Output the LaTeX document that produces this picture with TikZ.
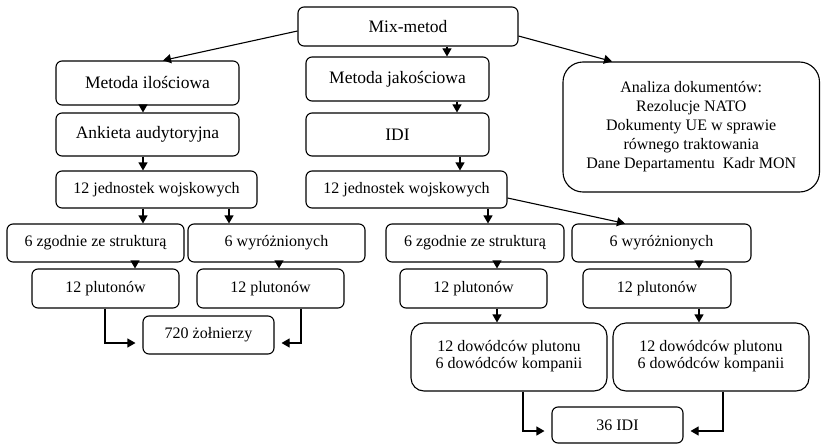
\documentclass[tikz,border=0pt]{standalone}
\usepackage{fontspec}
\setmainfont{Liberation Serif}
\usetikzlibrary{arrows.meta}
\newcommand{\twolines}[2]{\raisebox{9pt}{\begin{tabular}{@{}c@{}}#1\\#2\end{tabular}}}
\begin{document}
\begin{tikzpicture}[x=1pt,y=-1pt,
  box/.style={draw,line width=1.1pt,rounded corners=6pt,inner sep=0pt,align=center,
    font=\fontsize{16}{17}\selectfont},
  big/.style={font=\fontsize{17.5}{20}\selectfont},
  wh/.style 2 args={minimum width=#1pt,minimum height=#2pt},
  arr/.style={line width=1.1pt,-{Triangle[length=8pt,width=9pt]}},
  gap/.style={shorten >=7pt}]
\useasboundingbox (0,0) rectangle (821,444);

% top level
\node[box,big,wh={220}{39}] (mm) at (408,26.5) {Mix-metod};
\node[box,big,wh={183}{44}] (mi) at (147.5,83) {Metoda ilościowa};
\node[box,big,wh={183}{43}] (ak) at (147.5,134.5) {Ankieta audytoryjna};
\node[box,wh={201}{37}] (jl) at (156.5,189.5) {12 jednostek wojskowych};
\node[box,big,wh={183}{44}] (mj) at (397.5,79) {Metoda jakościowa};
\node[box,big,wh={183}{43}] (idi) at (397.5,134.5) {IDI};
\node[box,wh={201}{37}] (jm) at (406.5,189.5) {12 jednostek wojskowych};
\node[box,rounded corners=20pt,wh={256.5}{130},font=\fontsize{16}{19}\selectfont] (an) at (691.25,127)
  {Analiza dokumentów:\\Rezolucje NATO\\Dokumenty UE w sprawie\\równego traktowania\\Dane Departamentu\ \ Kadr MON};

% quantitative branch
\node[box,wh={177}{38}] (zl) at (95.5,243) {6 zgodnie ze strukturą};
\node[box,wh={177}{38}] (wl) at (276.5,243) {6 wyróżnionych};
\node[box,wh={147}{39}] (pl1) at (105.5,288.5) {12 plutonów};
\node[box,wh={147}{39}] (pl2) at (270.5,288.5) {12 plutonów};
\node[box,wh={131}{38}] (zol) at (208.5,335) {720 żołnierzy};

% qualitative branch
\node[box,wh={178}{38}] (zm) at (475,243) {6 zgodnie ze strukturą};
\node[box,wh={179}{38}] (wr) at (661.5,243) {6 wyróżnionych};
\node[box,wh={147}{39}] (pm) at (473.5,288.5) {12 plutonów};
\node[box,wh={148}{39}] (pr) at (657,288.5) {12 plutonów};
\node[box,rounded corners=13pt,wh={196}{68}] (dm) at (509,357) {\twolines{12 dowódców plutonu}{6 dowódców kompanii}};
\node[box,rounded corners=13pt,wh={196}{68}] (dr) at (711,357) {\twolines{12 dowódców plutonu}{6 dowódców kompanii}};
\node[box,wh={131}{36}] (idi36) at (617.5,425) {36 IDI};

% connectors
\draw[arr] ([yshift=-4.5pt]mm.west) -- ([xshift=15.5pt]mi.north);
\draw[arr] ([xshift=39pt]mm.south) -- ([xshift=49.5pt]mj.north);
\draw[arr] ([yshift=-9.5pt]mm.east) -- ([xshift=-79.25pt]an.north);
\draw[arr] ([xshift=-4.5pt]mi.south) -- ([xshift=-4.5pt]ak.north);
\draw[arr] ([xshift=-4.5pt]ak.south) -- ([xshift=-13.5pt]jl.north);
\draw[arr] ([xshift=-13.5pt]jl.south) -- ([xshift=47.5pt]zl.north);
\draw[arr] ([xshift=72.5pt]jl.south) -- ([xshift=-47.5pt]wl.north);
\draw[arr] ([xshift=59.5pt]mj.south) -- ([xshift=59.5pt]idi.north);
\draw[arr] ([xshift=62.5pt]idi.south) -- ([xshift=53.5pt]jm.north);
\draw[arr] ([xshift=81.5pt]jm.south) -- ([xshift=13pt]zm.north);
\draw[arr] ([yshift=-8.5pt]jm.east) -- ([xshift=-36.5pt]wr.north);
\draw[arr] ([xshift=39.5pt]zl.south) -- ([xshift=29.5pt]pl1.north);
\draw[arr] ([xshift=2.5pt]wl.south) -- ([xshift=8.5pt]pl2.north);
\draw[arr,gap] ([xshift=-0.5pt]pl1.south) |- ([yshift=-8pt]zol.west);
\draw[arr,gap] ([xshift=30.5pt]pl2.south) |- ([yshift=-8pt]zol.east);
\draw[arr] ([xshift=22pt]zm.south) -- ([xshift=23.5pt]pm.north);
\draw[arr] ([xshift=37.5pt]wr.south) -- ([xshift=42pt]pr.north);
\draw[arr] ([xshift=23.5pt]pm.south) -- ([xshift=-12pt]dm.north);
\draw[arr] ([xshift=42pt]pr.south) -- ([xshift=-12pt]dr.north);
\draw[arr,gap] ([xshift=14pt]dm.south) |- ([yshift=-6pt]idi36.west);
\draw[arr,gap] ([xshift=12pt]dr.south) |- ([yshift=-6pt]idi36.east);
\end{tikzpicture}
\end{document}
